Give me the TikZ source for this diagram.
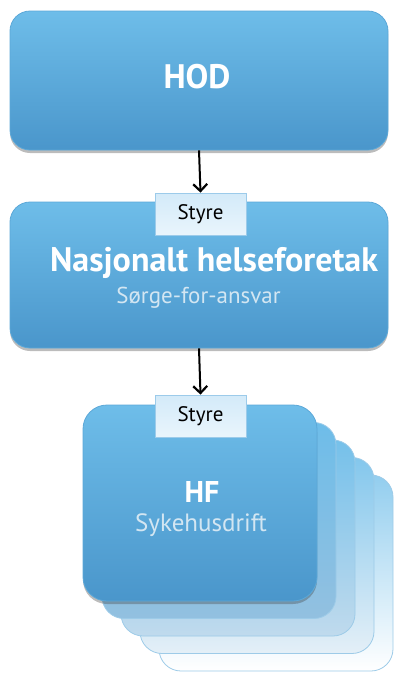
\documentclass[tikz,border=0pt]{standalone}
\usepackage{fontspec}
\setmainfont{PT Sans}
\usetikzlibrary{arrows.meta,shadows}
\definecolor{boxtop}{HTML}{6EBDE9}
\definecolor{boxbot}{HTML}{4A96CB}
\definecolor{boxedge}{HTML}{5CA8D8}
\definecolor{styretop}{HTML}{D3EAF9}
\definecolor{styrebot}{HTML}{E9F5FC}
\definecolor{styreedge}{HTML}{9CCBEA}
\definecolor{subtxt}{HTML}{D3E6F2}
\begin{document}
\begin{tikzpicture}[x=1pt,y=-1pt,
  bluebox/.style={rounded corners=20pt, top color=boxtop, bottom color=boxbot,
    draw=boxedge, line width=0.8pt, inner sep=0pt,
    drop shadow={shadow xshift=0pt, shadow yshift=-3pt, opacity=0.35, fill=black!75}},
  backbox/.style={rounded corners=22pt, inner sep=0pt, minimum width=234pt, minimum height=196pt,
    draw=boxedge!60!white, line width=0.8pt},
  styrebox/.style={top color=styretop, bottom color=styrebot, draw=styreedge,
    line width=0.8pt, minimum width=91pt, minimum height=42pt, inner sep=0pt,
    font=\fontsize{21}{21}\selectfont},
  bigtxt/.style={text=white, font=\bfseries\fontsize{34}{34}\selectfont, inner sep=0pt},
  subtext/.style={text=subtxt, inner sep=0pt},
  arrowline/.style={line width=2pt, -{Straight Barb[length=7pt,width=14pt,line width=2.2pt]}}
]
\useasboundingbox (0,0) rectangle (400,689);

% HOD
\node[bluebox, minimum width=378pt, minimum height=139pt] (hod) at (199,80.5) {};
\node[bigtxt] (hodtxt) at (197,77) {HOD};

% Nasjonalt helseforetak
\node[bluebox, minimum width=378pt, minimum height=146pt] (nhf) at (199,275) {};
\node[bigtxt] (nhftxt) at (214,263) {Nasjonalt helseforetak};
\node[subtext, font=\fontsize{23}{23}\selectfont] (nhfsub) at (198.5,298) {Sørge-for-ansvar};
\node[styrebox] (styre1) at (200.5,214) {Styre};

% stacked HF boxes
\node[backbox, top color=boxtop!75!white, bottom color=white] (hf4) at (276,573) {};
\node[backbox, top color=boxtop!85!white, bottom color=boxbot!15!white] (hf3) at (257,555.5) {};
\node[backbox, top color=boxtop!95!white, bottom color=boxbot!35!white] (hf2) at (238,538) {};
\node[backbox, top color=boxtop, bottom color=boxbot!60!white] (hf1) at (219,520.5) {};
\node[bluebox, rounded corners=24pt, minimum width=234pt, minimum height=196pt] (hf) at (200,503) {};
\node[bigtxt, font=\bfseries\fontsize{30}{30}\selectfont] (hftxt) at (202,492) {HF};
\node[subtext, font=\fontsize{25}{25}\selectfont] (hfsub) at (201,525) {Sykehusdrift};
\node[styrebox] (styre2) at (200.5,416) {Styre};

% arrows
\draw[arrowline] (hod.south) -- (styre1.north);
\draw[arrowline] (nhf.south) -- (styre2.north);
\end{tikzpicture}
\end{document}
